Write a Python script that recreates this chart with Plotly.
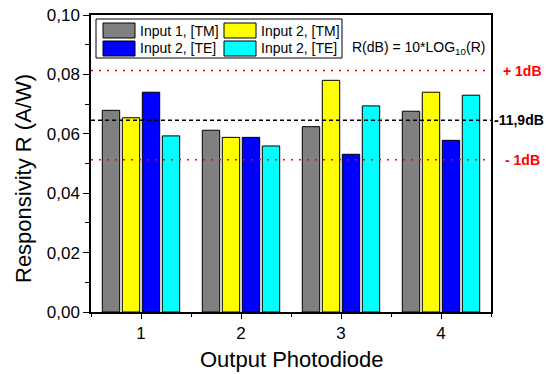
import plotly.graph_objects as go

categories = [1, 2, 3, 4]
series_names = ["Input 1, [TM]", "Input 2, [TM]", "Input 2, [TE]", "Input 2, [TE]"]
series_colors = ["#808080", "#FFFF00", "#0000FF", "#00FFFF"]
values_in1_tm = [0.0679, 0.0612, 0.0624, 0.0676]
values_in2_tm = [0.0654, 0.0588, 0.0780, 0.0740]
values_in2_te = [0.0740, 0.0588, 0.0531, 0.0578]
values_in2_te2 = [0.0593, 0.0559, 0.0694, 0.0730]
series_values = [values_in1_tm, values_in2_tm, values_in2_te, values_in2_te2]
y_tick_vals = [0.00, 0.02, 0.04, 0.06, 0.08, 0.10]
ref_db = -11.9
delta_db = 1.0

FONT = "Arial, Liberation Sans, sans-serif"
L, R, T, B = 91, 59, 15, 62
W, H = 550, 374
PW, PH = W - L - R, H - T - B

def px(x):
    return (x - L) / PW

def py(y):
    return (H - B - y) / PH

fig = go.Figure()
for name, col, vals in zip(series_names, series_colors, series_values):
    fig.add_trace(go.Bar(x=categories, y=vals, name=name,
                         marker=dict(color=col, line=dict(color="black", width=1)),
                         showlegend=False))

ref_val = 10 ** (ref_db / 10)
up_val = 10 ** ((ref_db + delta_db) / 10)
dn_val = 10 ** ((ref_db - delta_db) / 10)

shapes = []
annots = []
for v, c, d in [(up_val, "red", "2px,6px"), (ref_val, "black", "4px,3px"), (dn_val, "red", "2px,6px")]:
    shapes.append(dict(type="line", xref="paper", x0=0, x1=1, yref="y", y0=v, y1=v,
                       line=dict(color=c, width=1.5, dash=d), layer="above"))

annots.append(dict(xref="paper", yref="y", x=1, y=up_val, xanchor="left", xshift=10,
                   text="<b>+ 1dB</b>", showarrow=False, font=dict(family=FONT, size=14, color="red")))
annots.append(dict(xref="paper", yref="y", x=1, y=ref_val, xanchor="left", xshift=1,
                   text="<b>-11,9dB</b>", showarrow=False, font=dict(family=FONT, size=14, color="black")))
annots.append(dict(xref="paper", yref="y", x=1, y=dn_val, xanchor="left", xshift=12,
                   text="<b>- 1dB</b>", showarrow=False, font=dict(family=FONT, size=14, color="red")))

# manual legend
shapes.append(dict(type="rect", xref="paper", yref="paper", x0=px(96), x1=px(342), y0=py(58), y1=py(19),
                   line=dict(color="black", width=1), fillcolor="white", layer="above"))
leg_pos = [(103, 23), (224, 23), (103, 41), (224, 41)]
for (lx, ly), name, col in zip(leg_pos, series_names, series_colors):
    shapes.append(dict(type="rect", xref="paper", yref="paper", x0=px(lx), x1=px(lx + 32),
                       y0=py(ly + 15), y1=py(ly), line=dict(color="black", width=1),
                       fillcolor=col, layer="above"))
    annots.append(dict(xref="paper", yref="paper", x=px(lx + 35), y=py(ly + 7.5), xanchor="left",
                       yanchor="middle", text=name, showarrow=False,
                       font=dict(family=FONT, size=14, color="black")))

annots.append(dict(xref="paper", yref="paper", x=px(350), y=py(48), xanchor="left", yanchor="middle",
                   text="R(dB) = 10*LOG<sub>10</sub>(R)", showarrow=False,
                   font=dict(family=FONT, size=14, color="black")))
annots.append(dict(xref="paper", yref="paper", x=px(24), y=py(179), xanchor="center", yanchor="middle",
                   text="Responsivity R (A/W)", textangle=-90, showarrow=False,
                   font=dict(family=FONT, size=22, color="black")))
annots.append(dict(xref="paper", yref="paper", x=0.5, y=py(359), xanchor="center", yanchor="middle",
                   text="Output Photodiode", showarrow=False,
                   font=dict(family=FONT, size=22, color="black")))

fig.update_layout(
    width=W, height=H, margin=dict(l=L, r=R, t=T, b=B),
    paper_bgcolor="white", plot_bgcolor="white",
    separators=", ",
    barmode="group", bargap=0.2, bargroupgap=0.13,
    shapes=shapes, annotations=annots,
    font=dict(family=FONT, color="black"),
    xaxis=dict(range=[0.5, 4.5], tickvals=categories, ticktext=[str(c) for c in categories],
               ticks="outside", ticklen=5, tickcolor="black", showline=True, linecolor="black",
               linewidth=1.5, mirror=True, showgrid=False, zeroline=False, automargin=False,
               tickfont=dict(family=FONT, size=17),
               minor=dict(tick0=0.5, dtick=1, ticks="outside", ticklen=3, tickcolor="black")),
    yaxis=dict(range=[0, 0.10], tickvals=y_tick_vals, tickformat=".2f",
               ticks="outside", ticklen=6, tickcolor="black", showline=True, linecolor="black",
               linewidth=1.5, mirror=True, showgrid=False, zeroline=False, automargin=False,
               tickfont=dict(family=FONT, size=17),
               minor=dict(dtick=0.01, ticks="outside", ticklen=4, tickcolor="black")),
)

fig.write_html("out.html", config={"displayModeBar": False},
               post_script="document.body.style.margin='0';")
